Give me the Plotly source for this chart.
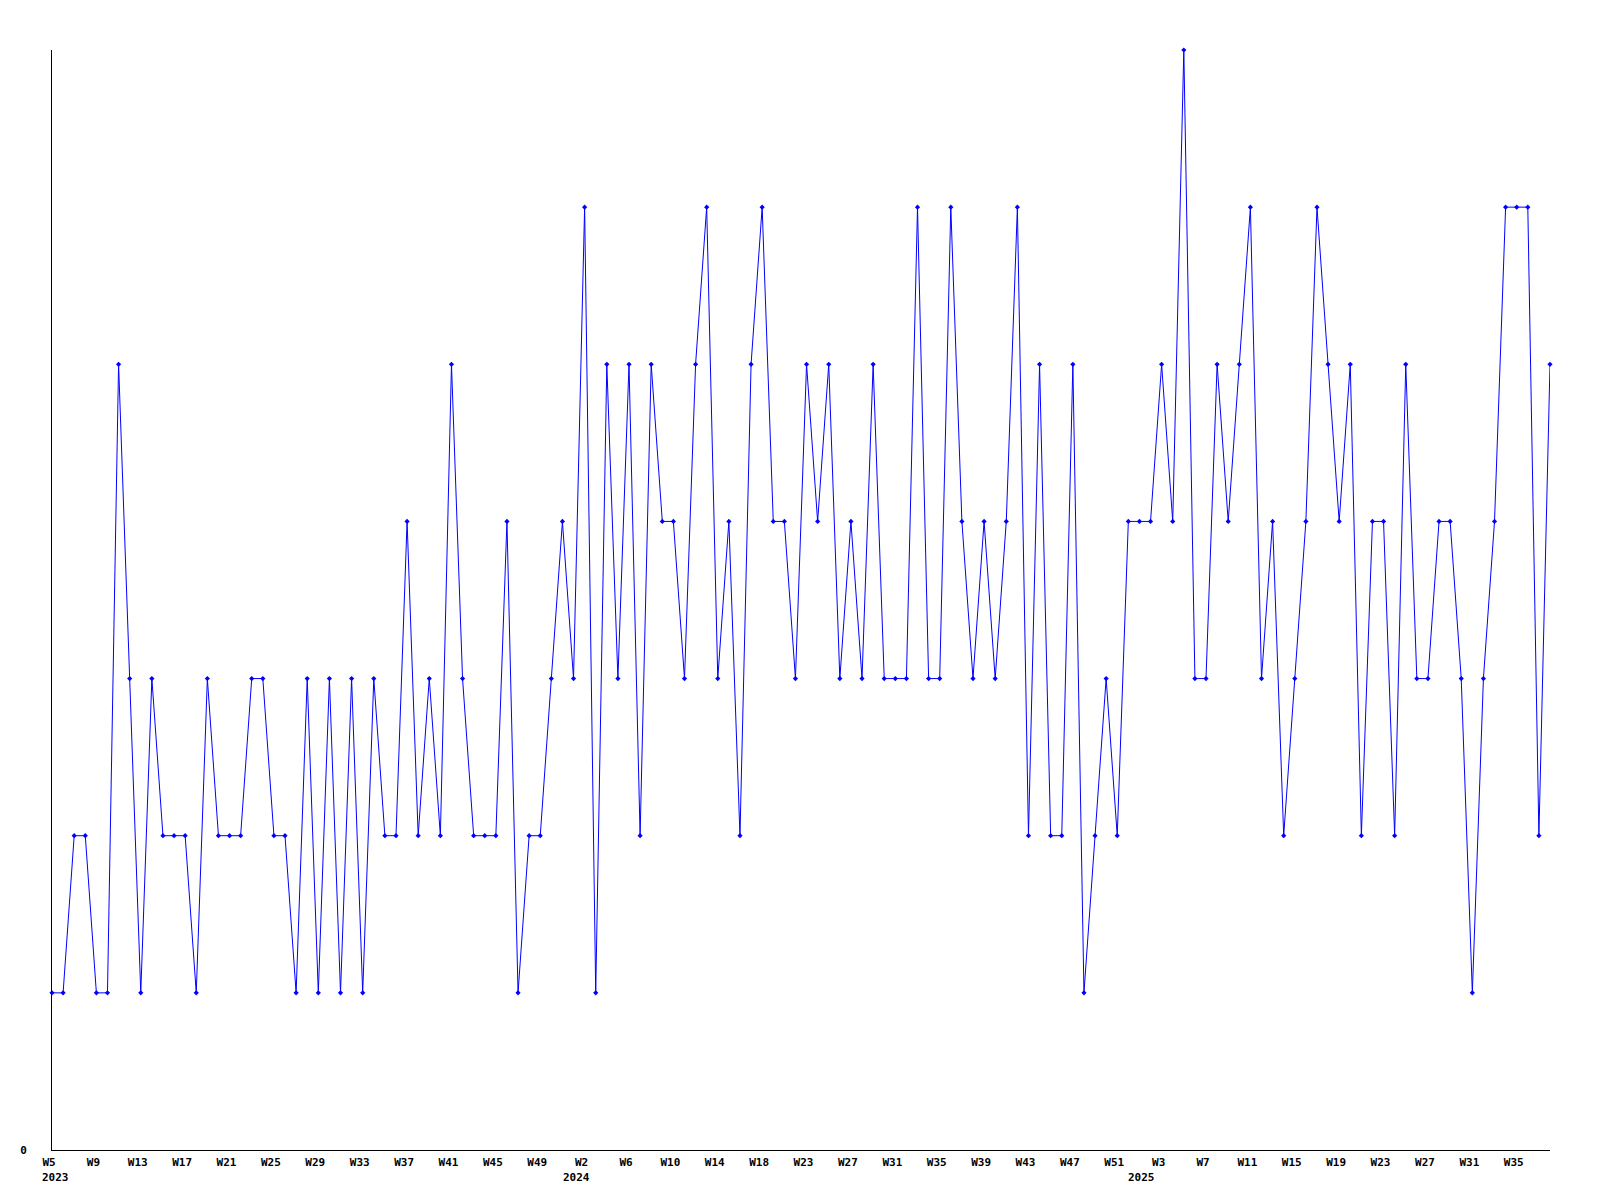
import plotly.graph_objects as go

# weekly counts, W5 2023 .. W38 2025
values = [
    1, 1, 2, 2, 1, 1, 5, 3, 1, 3,
    2, 2, 2, 1, 3, 2, 2, 2, 3, 3,
    2, 2, 1, 3, 1, 3, 1, 3, 1, 3,
    2, 2, 4, 2, 3, 2, 5, 3, 2, 2,
    2, 4, 1, 2, 2, 3, 4, 3, 6, 1,
    5, 3, 5, 2, 5, 4, 4, 3, 5, 6,
    3, 4, 2, 5, 6, 4, 4, 3, 5, 4,
    5, 3, 4, 3, 5, 3, 3, 3, 6, 3,
    3, 6, 4, 3, 4, 3, 4, 6, 2, 5,
    2, 2, 5, 1, 2, 3, 2, 4, 4, 4,
    5, 4, 7, 3, 3, 5, 4, 5, 6, 3,
    4, 2, 3, 4, 6, 5, 4, 5, 2, 4,
    4, 2, 5, 3, 3, 4, 4, 3, 1, 3,
    4, 6, 6, 6, 2, 5,
]
weeks = list(range(len(values)))

tick_labels = [
    "W5", "W9", "W13", "W17", "W21", "W25", "W29", "W33", "W37", "W41", "W45", "W49",
    "W2", "W6", "W10", "W14", "W18", "W23", "W27", "W31", "W35", "W39", "W43", "W47", "W51",
    "W3", "W7", "W11", "W15", "W19", "W23", "W27", "W31", "W35",
]
tick_step = 4

# year labels sit under the week row, roughly where each year starts
years = ["2023", "2024", "2025"]
year_pos = [0.3, 47.3, 98.2]

fig = go.Figure()
fig.add_trace(go.Scatter(
    x=weeks,
    y=values,
    mode="lines+markers",
    line=dict(color="#0000ff", width=1),
    marker=dict(color="#0000ff", symbol="diamond", size=4),
    cliponaxis=False,
    showlegend=False,
))

axis_font = dict(family="DejaVu Sans Mono", size=11, color="black", weight="bold")

for year, pos in zip(years, year_pos):
    fig.add_annotation(
        x=pos, y=0, xref="x", yref="paper",
        text=year, showarrow=False,
        xanchor="center", yanchor="middle", yshift=-27,
        font=axis_font,
    )

# page body has an 8px margin, so margins are shifted to keep the plot at 50..1550 / 50..1150
fig.update_layout(
    width=1600,
    height=1200,
    margin=dict(l=42, r=58, t=42, b=58),
    plot_bgcolor="white",
    paper_bgcolor="white",
    xaxis=dict(
        range=[0, len(values) - 1],
        tickvals=weeks[::tick_step],
        ticktext=tick_labels,
        tickfont=axis_font,
        showgrid=False,
        zeroline=False,
        showline=True,
        linecolor="black",
        linewidth=1,
        ticks="",
        ticklabelshift=-3,
        ticklabelstandoff=2,
    ),
    yaxis=dict(
        range=[0, 7],
        tickvals=[0],
        ticktext=["0"],
        tickfont=axis_font,
        showgrid=False,
        zeroline=False,
        showline=True,
        linecolor="black",
        linewidth=1,
        ticks="",
        ticklabelstandoff=22,
    ),
)

fig.write_html("out.html")
